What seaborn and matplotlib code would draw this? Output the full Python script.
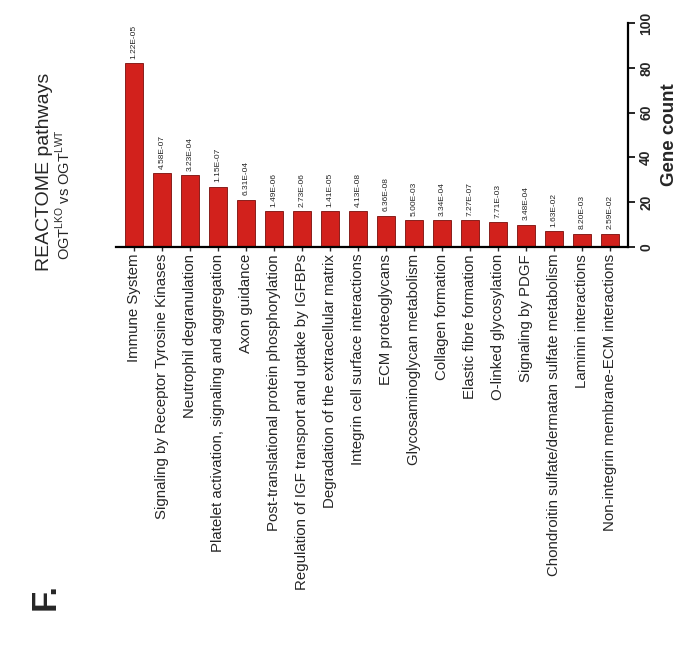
import matplotlib
matplotlib.use("Agg")
import matplotlib.pyplot as plt
import seaborn as sns
import pandas as pd

pathways = [
    "Immune System",
    "Signaling by Receptor Tyrosine Kinases",
    "Neutrophil degranulation",
    "Platelet activation, signaling and aggregation",
    "Axon guidance",
    "Post-translational protein phosphorylation",
    "Regulation of IGF transport and uptake by IGFBPs",
    "Degradation of the extracellular matrix",
    "Integrin cell surface interactions",
    "ECM proteoglycans",
    "Glycosaminoglycan metabolism",
    "Collagen formation",
    "Elastic fibre formation",
    "O-linked glycosylation",
    "Signaling by PDGF",
    "Chondroitin sulfate/dermatan sulfate metabolism",
    "Laminin interactions",
    "Non-integrin membrane-ECM interactions",
]
gene_counts = [82, 33, 32, 27, 21, 16, 16, 16, 16, 14, 12, 12, 12, 11, 10, 7, 6, 6]
p_values = ["1.22E-05", "4.58E-07", "3.23E-04", "1.15E-07", "6.31E-04", "1.49E-06",
            "2.73E-06", "1.41E-05", "4.13E-08", "6.36E-08", "5.00E-03", "3.34E-04",
            "7.27E-07", "7.71E-03", "3.48E-04", "1.63E-02", "8.20E-03", "2.59E-02"]
y_ticks = [0, 20, 40, 60, 80, 100]

sns.set_style("white")
plt.rcParams["font.family"] = ["Liberation Sans", "DejaVu Sans"]
plt.rcParams["mathtext.fontset"] = "custom"
plt.rcParams["mathtext.rm"] = "Liberation Sans"

df = pd.DataFrame({"pathway": pathways, "count": gene_counts})

W, H = 692, 646
fig = plt.figure(figsize=(W / 100, H / 100), dpi=100)
left, right, top, bottom = 116, 628, 23, 247
ax = fig.add_axes([left / W, 1 - bottom / H, (right - left) / W, (bottom - top) / H])

sns.barplot(data=df, x="pathway", y="count", color="#d2211c", saturation=1,
            edgecolor="#7a0d0a", linewidth=0.6, width=0.65, ax=ax)

ax.set_xlim(-0.64, len(pathways) - 1 + 0.64)
ax.set_ylim(0, 100)

# value axis on the right, labels turned sideways
ax.yaxis.tick_right()
ax.yaxis.set_label_position("right")
ax.set_yticks(y_ticks)
ax.set_yticklabels([str(t) for t in y_ticks], rotation=90, va="center",
                   fontsize=10, fontweight="bold")
ax.set_ylabel("Gene count", fontsize=13.5, fontweight="bold", rotation=90, labelpad=6)
ax.set_xlabel("")

ax.set_xticks(range(len(pathways)))
ax.set_xticklabels(pathways, rotation=90, ha="center", va="top", fontsize=10.8)

for side in ["top", "left"]:
    ax.spines[side].set_visible(False)
for side in ["bottom", "right"]:
    ax.spines[side].set_linewidth(1.6)
    ax.spines[side].set_color("black")
ax.tick_params(axis="y", direction="out", length=5, width=1.4, pad=3, right=True)
ax.tick_params(axis="x", direction="out", length=3, width=1, pad=2, bottom=True)

# p-values above each bar
for i, (v, p) in enumerate(zip(gene_counts, p_values)):
    ax.text(i, v + 2, p, rotation=90, ha="center", va="bottom", fontsize=6)

# title block
fig.text(45 / W, 1 - 172 / H, "REACTOME pathways", rotation=90, ha="center",
         va="center", fontsize=14)
fig.text(63 / W, 1 - 195 / H, r"OGT$^{\mathregular{LKO}}$ vs OGT$^{\mathregular{LWT}}$",
         rotation=90, ha="center", va="center", fontsize=10.5)
fig.text(45 / W, 1 - 597 / H, "F.", rotation=90, ha="center", va="center",
         fontsize=25, fontweight="bold")

fig.savefig("out.png", dpi=100)
